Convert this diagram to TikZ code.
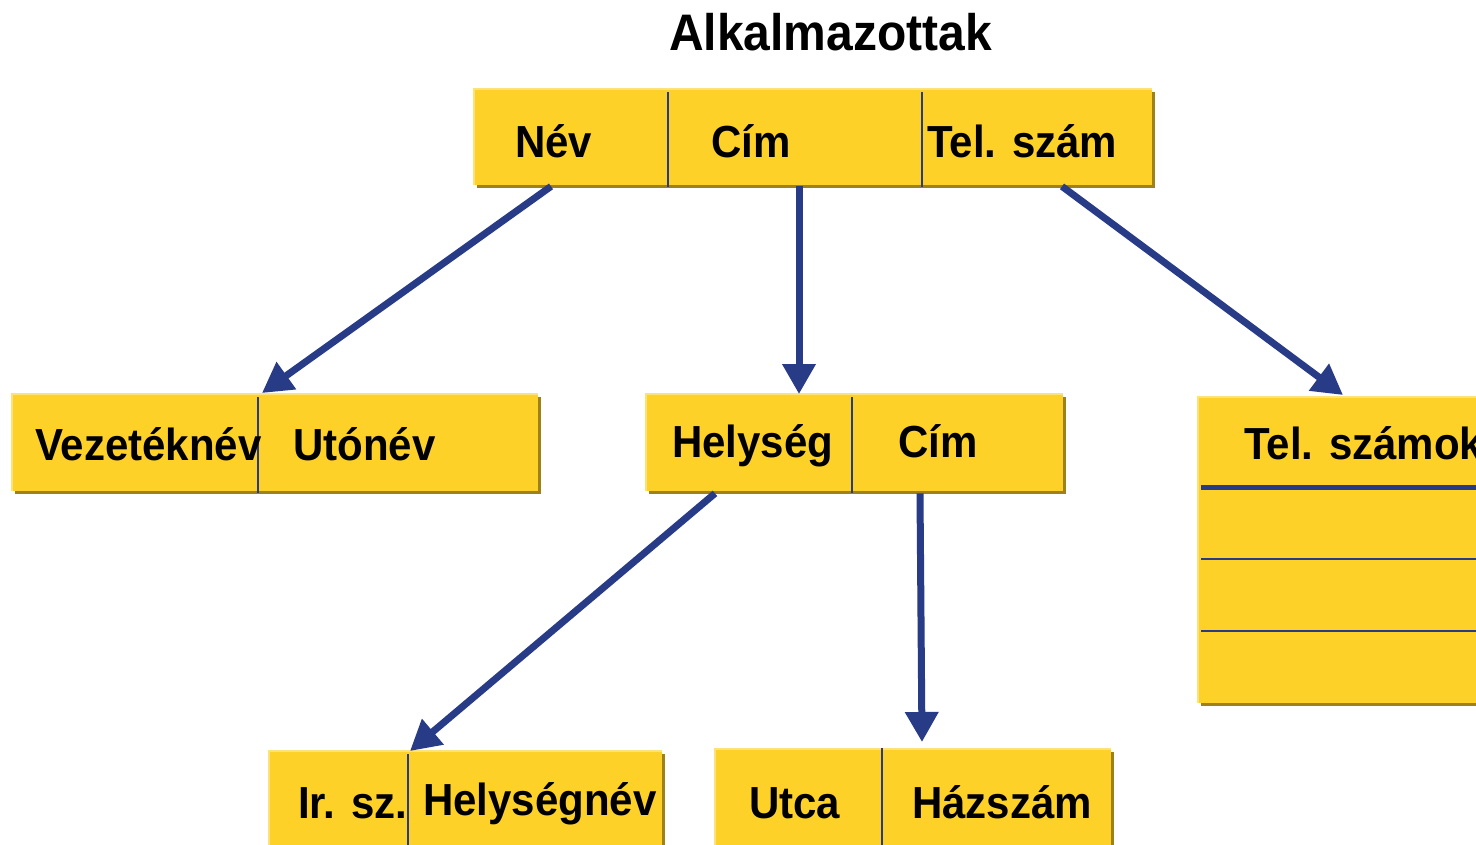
\documentclass[tikz,border=0pt]{standalone}
\usepackage{fontspec}
\setmainfont{Liberation Sans}
\usetikzlibrary{arrows.meta,calc,shadows}
\definecolor{boxyellow}{HTML}{FDD128}
\definecolor{boxshadow}{HTML}{9E8119}
\definecolor{boxlight}{HTML}{FDE27A}
\definecolor{arrowblue}{HTML}{283B86}
\newcommand{\lbl}[1]{\scalebox{1}[1.07]{#1}}
\begin{document}
\begin{tikzpicture}[x=1pt,y=-1pt,
  box/.style={rectangle, fill=boxyellow, inner sep=0pt, anchor=north west,
    general shadow={fill=boxshadow, shadow xshift=3pt, shadow yshift=-3pt}},
  lab/.style={anchor=base west, inner sep=0pt, font=\fontsize{42}{50}\selectfont\bfseries},
  divline/.style={arrowblue, line width=1.6pt},
  arr/.style={arrowblue, line width=7pt, -{Triangle[length=30pt,width=32pt]}},
  hilite/.style={boxlight, line width=1.5pt}]
\useasboundingbox (0,0) rectangle (1476,844);
\clip (0,0) rectangle (1476,844);
\fill[white] (0,0) rectangle (1476,844);

% title
\node[anchor=base west, inner sep=0pt, font=\fontsize{48}{56}\selectfont\bfseries] (title) at (669,50) {\lbl{Alkalmazottak}};

% boxes
\node[box, minimum width=678pt, minimum height=96pt] (top) at (474,89) {};
\node[box, minimum width=526pt, minimum height=97pt] (left) at (12,394) {};
\node[box, minimum width=417pt, minimum height=97pt] (mid) at (646,394) {};
\node[box, minimum width=300pt, minimum height=306pt] (tel) at (1198,397) {};
\node[box, minimum width=393pt, minimum height=100pt] (bl) at (269,751) {};
\node[box, minimum width=396pt, minimum height=102pt] (br) at (715,749) {};

% highlights (top and left edges)
\foreach \b in {top,left,mid,tel,bl,br}
  \draw[hilite] (\b.south west) -- (\b.north west) -- (\b.north east);

% dividers
\draw[divline] ($(top.north west)+(194,3)$) -- ($(top.south west)+(194,2)$);
\draw[divline] ($(top.north west)+(448,3)$) -- ($(top.south west)+(448,2)$);
\draw[divline] ($(left.north west)+(246,3)$) -- ($(left.south west)+(246,2)$);
\draw[divline] ($(mid.north west)+(206,3)$) -- ($(mid.south west)+(206,2)$);
\draw[divline] ($(bl.north west)+(139,3)$) -- ($(bl.south west)+(139,0)$);
\draw[divline] ($(br.north west)+(167,-1)$) -- ($(br.south west)+(167,0)$);
\draw[arrowblue, line width=5pt] ($(tel.north west)+(3,90)$) -- ($(tel.north east)+(0,90)$);
\draw[arrowblue, line width=1.8pt] ($(tel.north west)+(3,162)$) -- ($(tel.north east)+(0,162)$);
\draw[arrowblue, line width=1.8pt] ($(tel.north west)+(3,234)$) -- ($(tel.north east)+(0,234)$);

% labels
\node[lab] (tnev) at (515,157) {\lbl{Név}};
\node[lab] (tcim) at (711,157) {\lbl{Cím}};
\node[lab] (ttel) at (927,157) {\lbl{Tel. szám}};
\node[lab] (lvez) at (35,460) {\lbl{Vezetéknév}};
\node[lab] (luto) at (293,460) {\lbl{Utónév}};
\node[lab] (mhely) at (672,457) {\lbl{Helység}};
\node[lab] (mcim) at (898,457) {\lbl{Cím}};
\node[lab] (ttsz) at (1244,459) {\lbl{Tel. számok}};
\node[lab] (birsz) at (298,818) {\lbl{Ir. sz.}};
\node[lab] (bhely) at (423,815) {\lbl{Helységnév}};
\node[lab] (butca) at (749,818) {\lbl{Utca}};
\node[lab] (bhaz) at (912,818) {\lbl{Házszám}};

% arrows
\draw[arr] ($(top.south west)+(77,1)$) -- ($(left.north west)+(250,-1)$);
\draw[arr] ($(top.south west)+(325,1)$) -- ($(mid.north west)+(153,0)$);
\draw[arr] ($(top.south west)+(588,1)$) -- ($(tel.north west)+(145,-2)$);
\draw[arr] ($(mid.south west)+(69,2)$) -- ($(bl.north west)+(141,0)$);
\draw[arr] ($(mid.south west)+(274,2)$) -- ($(br.north west)+(207,-7)$);
\end{tikzpicture}
\end{document}
